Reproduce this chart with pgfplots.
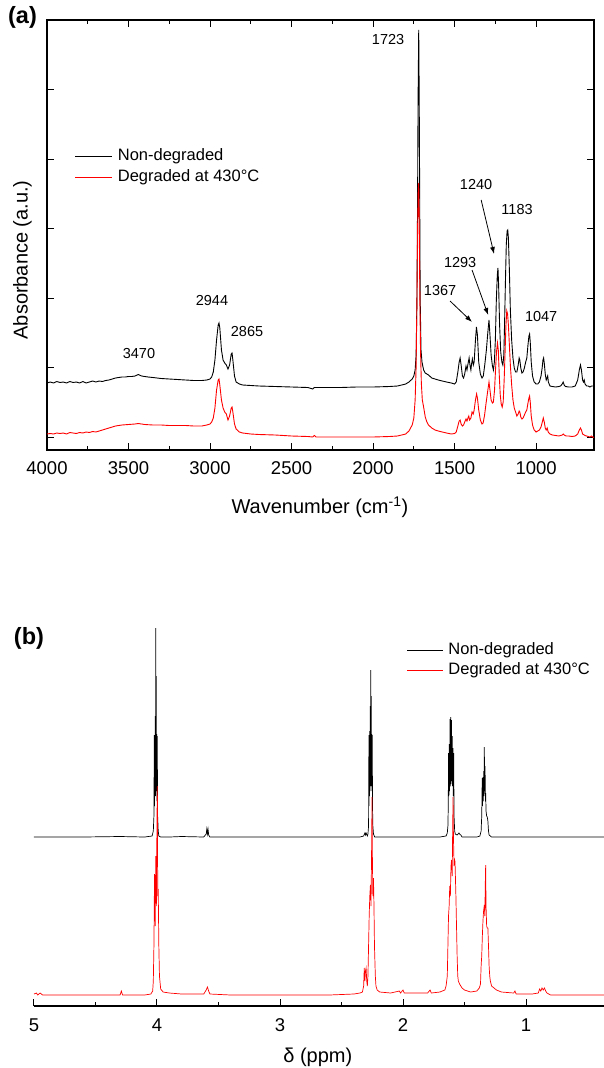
\documentclass[border=0pt]{standalone}
\usepackage{fontspec}
\setmainfont{Liberation Sans}
\usepackage{pgfplots}
\pgfplotsset{compat=1.18}
\usetikzlibrary{arrows.meta}
\begin{document}
\begin{tikzpicture}
\path[use as bounding box] (0,0) rectangle (604pt,-1068pt);
\pgfplotsset{
  every axis/.append style={
    /pgf/number format/assume math mode=true,
    /pgf/number format/set thousands separator={},
    tick label style={font=\fontsize{18.5}{20}\selectfont},
    label style={font=\fontsize{20}{22}\selectfont},
    tick align=inside,
    major tick length=7pt,
    minor tick length=4pt,
    every tick/.style={black, line width=1pt},
    axis line style={line width=1.2pt},
    legend cell align=left,
    clip=false,
  },
}
% ---------------- panel (a) ----------------
\begin{axis}[
  at={(47pt,-450pt)}, anchor=south west,
  scale only axis, width=547pt, height=430pt,
  x dir=reverse, xmin=645, xmax=4000, ymin=0, ymax=430,
  xtick={1000,1500,...,4000}, minor x tick num=1,
  ytick={13,82.5,152,221.5,291,360.5}, yticklabels={},
  xticklabel style={anchor=center, yshift=-18pt},
  xlabel={Wavenumber (cm\textsuperscript{-1})},
  ylabel={Absorbance (a.u.)},
  xlabel style={at={(rel axis cs:0.499,-0.1326)}, anchor=center},
  ylabel style={at={(rel axis cs:-0.0448,0.442)}, anchor=center},
  legend image code/.code={\draw[#1] (0pt,0pt) -- (37pt,0pt);},
  legend style={at={(rel axis cs:0.0512,0.7023)}, anchor=north west, draw=none, fill=none,
    inner sep=0pt, outer sep=0pt, row sep=5pt, column sep=5pt,
    font=\fontsize{16.5}{18}\selectfont,
    nodes={inner sep=0pt, text height=12pt, text depth=4pt}},
]
\addplot[black, line width=0.9pt] coordinates {
(4000,67)(3980,68)(3960,67)(3940,68.5)(3920,67.5)(3900,68)(3880,67)(3860,68.5)(3840,67.5)(3820,68)(3800,67)(3780,68.5)(3760,67)(3740,68)(3720,69)(3700,68)(3680,69)(3660,68.5)(3640,69.5)(3620,70)(3600,71)(3580,72)(3560,72.5)(3540,73)(3520,73)(3500,73.5)(3480,73.5)(3460,74)(3440,75.5)(3420,74)(3400,73.5)(3380,73)(3350,72.5)(3300,71.5)(3250,71)(3200,70.5)(3150,70)(3100,69.5)(3050,69.5)(3020,70)(3000,71)(2990,73)(2980,78)(2970,90)(2960,110)(2950,125)(2945,127)(2940,122)(2930,100)(2920,90)(2910,87)(2900,85)(2890,81)(2880,85)(2870,96)(2865,97)(2860,90)(2850,74)(2840,68)(2820,66)(2800,65)(2750,64.5)(2700,64)(2600,63.5)(2500,63)(2400,62.5)(2370,61)(2360,62.5)(2300,62.5)(2200,62.5)(2100,63)(2000,63)(1900,63.5)(1850,64)(1800,66)(1780,68)(1760,71)(1750,74)(1742,80)(1736,95)(1731,150)(1727,250)(1724,350)(1720,420)(1717,350)(1714,250)(1711,150)(1706,100)(1700,88)(1690,80)(1680,77)(1660,75)(1640,72)(1600,70)(1550,68)(1520,67)
(1500,66)(1490,68)(1480,78)(1472,88)(1466,92)(1460,85)(1452,74)(1445,72)(1438,76)(1430,84)(1424,80)(1418,86)(1411,92)(1405,84)(1400,80)(1396,86)(1391,91)(1385,85)(1380,88)(1372,110)(1366,123)(1360,115)(1352,88)(1342,76)(1332,72)(1324,74)(1315,85)(1305,100)(1296,118)(1289,130)(1283,115)(1276,95)(1268,84)(1262,80)(1256,88)(1250,110)(1244,150)(1238,175)(1234,182)(1230,165)(1224,125)(1217,98)(1210,88)(1204,85)(1198,95)(1193,130)(1188,170)(1183,205)(1178,219)(1174,220)(1170,212)(1164,180)(1158,140)(1150,110)(1142,92)(1134,82)(1126,78)(1118,78)(1110,85)(1104,92)(1100,90)(1094,82)(1087,77)(1080,78)(1072,82)(1064,88)(1057,92)(1050,105)(1044,114)(1040,116)(1036,108)(1030,88)(1022,74)(1012,68)(1000,66)(990,66)(980,68)(970,74)(963,82)(958,90)(954,92)(950,87)(944,76)(938,70)(933,72)(929,74)(925,68)(915,64)(900,63.5)(880,63)(860,63.5)(850,64)(840,66)(834,68)(828,65)(820,63.5)(800,63)(780,63)(760,64)(745,70)(735,80)(728,85)(722,80)(715,70)(710,68)(705,70)(700,66)(690,64)(680,64)(670,63)(660,64)(645,64)
};
\addlegendentry{Non-degraded}
\addplot[red, line width=0.9pt] coordinates {
(4000,16)(3980,16.5)(3960,16)(3940,17)(3920,16.5)(3900,17)(3880,16)(3860,17.5)(3840,17)(3820,16.5)(3800,17.5)(3780,17)(3760,18)(3740,17.5)(3720,18.5)(3700,18)(3680,19)(3660,20)(3640,21)(3620,22)(3600,23)(3580,24)(3560,24.5)(3540,25)(3500,25.5)(3460,26)(3440,26.5)(3420,26)(3400,25.5)(3350,25)(3300,25)(3250,24.5)(3200,24.5)(3150,24.5)(3100,24)(3050,24)(3020,25)(3000,26)(2990,28)(2980,32)(2970,42)(2960,60)(2950,70)(2945,71)(2940,65)(2930,50)(2920,42)(2910,38)(2900,36)(2890,30)(2880,34)(2870,42)(2865,43)(2860,38)(2850,26)(2840,21)(2820,18)(2800,17)(2750,16)(2700,15.5)(2600,15)(2500,14)(2400,13.5)(2370,13)(2360,14.5)(2350,13)(2300,13)(2200,13)(2100,13)(2000,13)(1900,13.5)(1850,14)(1800,16)(1780,19)(1760,25)(1750,32)(1742,50)(1736,83)(1731,150)(1727,220)(1723,260)(1720,267)(1717,230)(1713,150)(1709,100)(1704,67)(1698,50)(1690,43)(1680,33)(1670,28)(1660,25)(1640,22)(1620,20)(1600,19)(1550,17)(1520,16)
(1500,16.5)(1490,18)(1480,24)(1472,29)(1466,30)(1460,26)(1452,24)(1445,25)(1438,28)(1430,31)(1424,29)(1418,32)(1413,34)(1408,30)(1400,32)(1393,38)(1386,36)(1380,40)(1372,50)(1365,56)(1360,52)(1352,40)(1342,30)(1332,26)(1325,27)(1316,35)(1306,48)(1296,60)(1289,68)(1283,60)(1276,50)(1268,47)(1262,48)(1255,60)(1249,80)(1243,98)(1237,107)(1232,100)(1226,75)(1220,55)(1214,46)(1208,43)(1202,48)(1196,70)(1190,100)(1185,125)(1180,139)(1175,136)(1170,125)(1164,105)(1158,85)(1150,65)(1142,50)(1134,42)(1126,38)(1118,34)(1110,36)(1104,39)(1100,38)(1094,33)(1087,31)(1080,32)(1072,35)(1064,38)(1057,40)(1050,47)(1044,52)(1040,54)(1036,48)(1030,34)(1022,25)(1012,20)(1000,18)(990,19)(980,20)(970,23)(962,28)(956,32)(950,28)(944,22)(938,20)(932,22)(926,18)(915,16)(900,15)(880,14.5)(860,14)(840,15)(834,16)(828,15)(815,14)(800,14)(780,13.5)(760,14)(745,16)(735,20)(728,22)(722,20)(715,16)(705,15)(700,14.5)(690,14)(680,13.5)(670,13)(660,14)(650,12.5)(645,13)
};
\addlegendentry{Degraded at 430°C}
\begin{scope}[font=\fontsize{14.5}{16}\selectfont]
\node at (axis cs:1908,410) {1723};
\node at (axis cs:2988,149) {2944};
\node at (axis cs:2773,118) {2865};
\node at (axis cs:3436,96) {3470};
\node at (axis cs:1589,159) {1367};
\node at (axis cs:1466,187) {1293};
\node at (axis cs:1368,265) {1240};
\node at (axis cs:1117,240) {1183};
\node at (axis cs:969,133) {1047};
\end{scope}
\draw[-{Latex[length=7pt,width=5pt]}, line width=0.8pt] (axis cs:1528,149) -- (axis cs:1393,128);
\draw[-{Latex[length=7pt,width=5pt]}, line width=0.8pt] (axis cs:1393,180) -- (axis cs:1294,135);
\draw[-{Latex[length=7pt,width=5pt]}, line width=0.8pt] (axis cs:1337,250) -- (axis cs:1258,196);
\end{axis}
\node[font=\fontsize{23.5}{25}\selectfont\bfseries] at (22.5pt,-17.5pt) {(a)};
% ---------------- panel (b) ----------------
\begin{axis}[
  at={(34pt,-1006pt)}, anchor=south west,
  scale only axis, width=570pt, height=400pt,
  x dir=reverse, xmin=0.366, xmax=5, ymin=0, ymax=400,
  axis x line*=bottom, axis y line=none,
  xtick={1,2,3,4,5}, minor x tick num=1,
  xticklabel style={anchor=center, yshift=-19pt},
  xlabel={δ (ppm)},
  xlabel style={at={(rel axis cs:0.498,-0.1275)}, anchor=center},
  legend image code/.code={\draw[#1] (0pt,0pt) -- (36pt,0pt);},
  legend style={at={(rel axis cs:0.6539,0.908)}, anchor=north west, draw=none, fill=none,
    inner sep=0pt, outer sep=0pt, row sep=4pt, column sep=5pt,
    font=\fontsize{16.5}{18}\selectfont,
    nodes={inner sep=0pt, text height=12pt, text depth=4pt}},
]
\addplot[black, line width=0.7pt] coordinates {
(5.0,169)(4.6,169)(4.3,169.5)(4.1,169)(4.04,170)(4.03,175)(4.025,190)
(4.022,271)(4.02,200)(4.018,271)(4.016,230)(4.014,290)(4.012,210)(4.010,378)(4.008,220)(4.006,330)(4.004,215)(4.002,272)(4.0,205)(3.998,270)(3.995,190)(3.99,175)(3.985,170)(3.97,169)
(3.9,169)(3.8,169.5)(3.62,169)(3.60,172)(3.595,177)(3.59,172)(3.585,177)(3.58,171)(3.57,169)(3.0,169)(2.5,169)(2.35,169)(2.32,170)(2.31,173)(2.305,171)(2.30,173)(2.29,170)(2.285,172)(2.28,180)
(2.277,271)(2.276,200)(2.274,262)(2.272,210)(2.27,275)(2.268,215)(2.266,300)(2.264,220)(2.262,336)(2.260,225)(2.258,310)(2.256,220)(2.254,272)(2.252,215)(2.25,271)(2.248,200)(2.245,180)(2.24,172)(2.23,169)
(2.0,169)(1.7,169)(1.65,170)(1.64,173)(1.635,180)
(1.632,200)(1.63,253)(1.627,210)(1.624,262)(1.621,215)(1.618,287)(1.615,220)(1.612,289)(1.609,222)(1.606,286)(1.603,225)(1.600,270)(1.597,220)(1.594,258)(1.591,210)(1.588,253)(1.585,190)(1.58,175)(1.575,172)(1.56,171)(1.545,173)(1.54,172)(1.53,171)(1.52,169)
(1.4,169)(1.375,170)(1.365,175)(1.36,190)
(1.356,228)(1.353,200)(1.350,229)(1.347,205)(1.344,235)(1.341,210)(1.339,259)(1.336,215)(1.333,240)(1.330,205)(1.328,213)(1.325,195)(1.32,190)(1.315,189)(1.31,185)(1.305,175)(1.30,171)(1.28,169)
(1.0,169)(0.366,169)
};
\addlegendentry{Non-degraded}
\addplot[red, line width=0.7pt] coordinates {
(5.0,12)(4.98,13)(4.97,11)(4.95,13)(4.93,11)(4.9,11)(4.6,11)(4.3,11)(4.29,15)(4.28,11)(4.1,11)(4.05,12)
(4.035,15)(4.03,25)(4.025,60)(4.02,132)(4.015,80)(4.01,150)(4.005,100)(4.0,190)(3.997,220)(3.994,110)(3.99,117)(3.985,60)(3.98,30)(3.97,17)(3.95,14)(3.9,13)
(3.8,12)(3.62,12)(3.6,16)(3.59,19)(3.58,15)(3.57,12)(3.4,11)(3.0,11)(2.6,11)(2.4,12)(2.35,13)(2.33,14)
(2.32,20)(2.315,38)(2.31,25)(2.305,35)(2.30,38)(2.295,25)(2.29,20)(2.285,30)(2.28,60)(2.275,90)(2.27,110)(2.265,121)(2.26,100)(2.255,160)(2.252,209)(2.249,150)(2.245,110)(2.24,128)(2.236,100)(2.232,60)(2.225,30)(2.22,20)(2.21,16)(2.19,14)
(2.1,13)(2.03,15)(2.02,13)(2.0,16)(1.99,13)(1.8,13)(1.78,16)(1.77,13)(1.7,14)(1.66,16)(1.65,20)(1.64,30)(1.635,60)
(1.63,90)(1.625,100)(1.62,120)(1.615,110)(1.61,140)(1.605,146)(1.60,130)(1.596,180)(1.593,209)(1.59,170)(1.585,140)(1.58,146)(1.577,144)(1.57,110)(1.565,80)(1.56,50)(1.555,30)(1.55,25)(1.54,22)(1.52,18)(1.5,16)(1.45,14)(1.4,15)(1.38,18)(1.37,22)(1.365,40)
(1.36,50)(1.355,70)(1.35,85)(1.345,95)(1.339,101)(1.335,90)(1.33,130)(1.328,141)(1.325,100)(1.32,80)(1.315,78)(1.31,78)(1.305,60)(1.30,40)(1.295,30)(1.29,25)(1.28,20)(1.26,18)(1.24,16)(1.2,14)
(1.1,13)(1.09,15)(1.08,12)(0.95,12)(0.9,13)(0.89,17)(0.88,15)(0.87,18)(0.86,16)(0.85,18)(0.84,15)(0.83,13)(0.8,11)(0.6,11)(0.366,11)
};
\addlegendentry{Degraded at 430°C}
\end{axis}
\node[font=\fontsize{23.5}{25}\selectfont\bfseries] at (29pt,-638pt) {(b)};
\end{tikzpicture}
\end{document}
